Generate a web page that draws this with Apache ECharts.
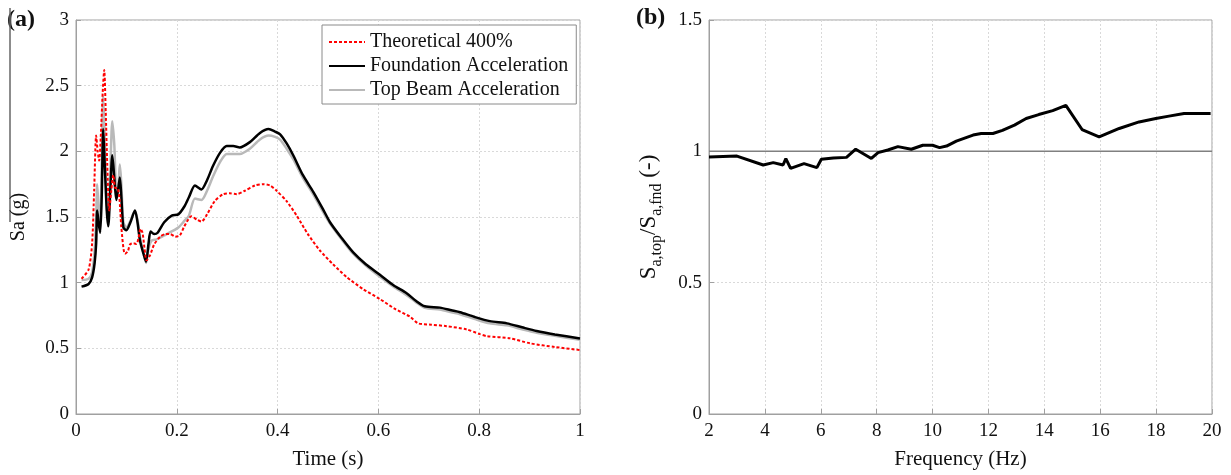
<!DOCTYPE html>
<html>
<head>
<meta charset="utf-8">
<script src="https://cdn.jsdelivr.net/npm/echarts@6/dist/echarts.min.js"></script>
<style>html,body{margin:0;padding:0;background:#fff}#c{width:1231px;height:475px}</style>
</head>
<body>
<div id="c"></div>
<script>
// ---------- DATA ----------
const seriesNames = ['Theoretical 400%', 'Foundation Acceleration', 'Top Beam Acceleration'];

const tTheo = [0.011,0.025,0.032,0.036,0.040,0.043,0.046,0.049,0.053,0.056,0.059,0.062,0.066,0.070,0.074,0.078,0.082,0.086,0.090,0.097,0.103,0.107,0.114,0.120,0.124,0.128,0.132,0.136,0.140,0.147,0.155,0.167,0.178,0.187,0.197,0.206,0.215,0.229,0.240,0.249,0.260,0.275,0.292,0.305,0.319,0.335,0.355,0.372,0.385,0.398,0.418,0.438,0.460,0.484,0.510,0.537,0.570,0.603,0.633,0.663,0.679,0.705,0.735,0.775,0.800,0.815,0.861,0.901,0.950,1.000];
const theo = [1.03,1.10,1.30,1.70,2.12,2.00,1.93,2.10,2.45,2.62,2.30,1.90,1.55,1.70,1.82,1.72,1.72,1.65,1.42,1.22,1.24,1.29,1.30,1.295,1.34,1.41,1.38,1.26,1.17,1.21,1.29,1.35,1.37,1.37,1.35,1.36,1.43,1.505,1.48,1.465,1.52,1.62,1.674,1.68,1.674,1.70,1.74,1.75,1.74,1.70,1.62,1.51,1.37,1.245,1.14,1.043,0.95,0.875,0.80,0.74,0.69,0.68,0.669,0.644,0.61,0.593,0.576,0.538,0.51,0.487];

const tFnd = [0.011,0.025,0.032,0.037,0.040,0.042,0.045,0.048,0.051,0.054,0.057,0.061,0.064,0.068,0.072,0.076,0.080,0.084,0.087,0.090,0.094,0.100,0.108,0.117,0.122,0.127,0.134,0.139,0.144,0.148,0.155,0.162,0.175,0.190,0.203,0.215,0.224,0.236,0.249,0.260,0.272,0.286,0.299,0.312,0.325,0.345,0.365,0.382,0.395,0.405,0.418,0.431,0.450,0.471,0.490,0.504,0.527,0.550,0.575,0.603,0.630,0.656,0.675,0.692,0.722,0.745,0.762,0.790,0.821,0.855,0.885,0.914,0.950,1.000];
const fnd = [0.97,0.99,1.04,1.15,1.30,1.55,1.45,1.38,1.65,2.17,1.90,1.55,1.43,1.70,1.97,1.80,1.63,1.72,1.80,1.65,1.42,1.40,1.46,1.55,1.46,1.32,1.22,1.16,1.30,1.39,1.37,1.38,1.46,1.51,1.52,1.58,1.65,1.74,1.71,1.78,1.89,1.99,2.04,2.04,2.03,2.07,2.14,2.17,2.15,2.13,2.06,1.97,1.82,1.69,1.56,1.46,1.34,1.23,1.14,1.06,0.98,0.92,0.86,0.82,0.81,0.79,0.775,0.74,0.707,0.69,0.66,0.632,0.606,0.575];

const tTop = [0.011,0.025,0.032,0.037,0.040,0.042,0.045,0.048,0.051,0.054,0.057,0.061,0.064,0.068,0.072,0.076,0.080,0.084,0.087,0.090,0.094,0.100,0.108,0.117,0.122,0.127,0.134,0.139,0.144,0.150,0.160,0.175,0.190,0.203,0.215,0.224,0.236,0.249,0.260,0.272,0.286,0.299,0.312,0.325,0.345,0.365,0.382,0.395,0.405,0.418,0.431,0.450,0.471,0.490,0.504,0.527,0.550,0.575,0.603,0.630,0.656,0.675,0.692,0.722,0.745,0.762,0.790,0.821,0.855,0.885,0.914,0.950,1.000];
const topBeam = [1.02,1.03,1.08,1.25,1.50,1.75,1.55,1.48,1.90,2.42,2.10,1.60,1.49,1.85,2.23,2.05,1.72,1.75,1.90,1.75,1.46,1.42,1.47,1.55,1.48,1.35,1.22,1.15,1.26,1.32,1.33,1.36,1.39,1.42,1.47,1.51,1.64,1.63,1.70,1.81,1.92,1.98,1.98,1.98,2.02,2.09,2.12,2.11,2.09,2.02,1.94,1.80,1.67,1.54,1.45,1.33,1.22,1.13,1.045,0.97,0.905,0.85,0.808,0.795,0.775,0.76,0.725,0.69,0.675,0.645,0.618,0.595,0.565];

const freq = [2.0,3.0,3.94,4.3,4.65,4.75,4.92,5.4,5.86,6.02,6.45,6.92,7.25,7.81,8.05,8.4,8.76,9.24,9.65,10.0,10.25,10.5,10.85,11.45,11.74,12.16,12.5,12.93,13.35,13.8,14.3,14.77,15.35,15.96,16.68,17.39,17.99,18.46,19.0,19.95];
const ratio = [0.978,0.982,0.948,0.957,0.948,0.972,0.935,0.953,0.938,0.970,0.975,0.977,1.008,0.973,0.995,1.005,1.018,1.008,1.023,1.023,1.014,1.020,1.039,1.062,1.068,1.068,1.080,1.100,1.125,1.140,1.155,1.175,1.083,1.055,1.087,1.112,1.125,1.134,1.144,1.144];
const refLevel = 1;

// ---------- CHART ----------
const pairs = (xs, ys) => xs.map((x, i) => [x, ys[i]]);
const FONT = '"Liberation Serif", "DejaVu Serif", serif';
const gridLine = { show: true, lineStyle: { color: '#d9d9d9', type: [2, 2], width: 1 } };
const axisLine = { show: true, lineStyle: { color: '#a0a0a0', width: 1 } };
const axisTick = { show: true, inside: true, length: 5, lineStyle: { color: '#a0a0a0' } };
const label = { color: '#111', fontFamily: FONT, fontSize: 19 };

const chart = echarts.init(document.getElementById('c'), null, { renderer: 'canvas' });
chart.setOption({
  backgroundColor: '#fff',
  animation: false,
  grid: [
    { left: 76, right: 651, top: 20, bottom: 59, show: true, borderColor: '#a0a0a0', borderWidth: 1, backgroundColor: 'transparent' },
    { left: 709, right: 19, top: 20, bottom: 59, show: true, borderColor: '#a0a0a0', borderWidth: 1, backgroundColor: 'transparent' }
  ],
  xAxis: [
    { type: 'value', gridIndex: 0, min: 0, max: 1, interval: 0.2,
      name: 'Time (s)', nameLocation: 'middle', nameGap: 35,
      nameTextStyle: { color: '#111', fontFamily: FONT, fontSize: 21 },
      axisLine, axisTick, splitLine: gridLine, axisLabel: Object.assign({ margin: 8 }, label) },
    { type: 'value', gridIndex: 1, min: 2, max: 20, interval: 2,
      name: 'Frequency (Hz)', nameLocation: 'middle', nameGap: 35,
      nameTextStyle: { color: '#111', fontFamily: FONT, fontSize: 21 },
      axisLine, axisTick, splitLine: gridLine, axisLabel: Object.assign({ margin: 8 }, label) }
  ],
  yAxis: [
    { type: 'value', gridIndex: 0, min: 0, max: 3, interval: 0.5,
      name: 'Sa (g)', nameLocation: 'middle', nameGap: 47, nameRotate: 90,
      nameTextStyle: { color: '#111', fontFamily: FONT, fontSize: 20 },
      axisLine, axisTick, splitLine: gridLine, axisLabel: Object.assign({ margin: 7 }, label) },
    { type: 'value', gridIndex: 1, min: 0, max: 1.5, interval: 0.5,
      name: '{m|S}{s|a,top}{m|/S}{s|a,fnd}{m| (-)}', nameLocation: 'middle', nameGap: 44, nameRotate: 90,
      nameTextStyle: { color: '#111', fontFamily: FONT, fontSize: 22,
        rich: {
          m: { fontFamily: FONT, fontSize: 23, color: '#111', lineHeight: 32 },
          s: { fontFamily: FONT, fontSize: 16, color: '#111', verticalAlign: 'bottom' }
        } },
      axisLine, axisTick, splitLine: gridLine, axisLabel: Object.assign({ margin: 7 }, label) }
  ],
  legend: {
    left: 322, top: 25, orient: 'vertical',
    padding: [7, 8, 4, 6], itemGap: 4, itemWidth: 36, itemHeight: 14, itemTextGap: 4,
    borderColor: '#8a8a8a', borderWidth: 1, backgroundColor: '#fff',
    itemStyle: { opacity: 0, borderWidth: 0 },
    textStyle: { color: '#111', fontFamily: FONT, fontSize: 20 },
    data: seriesNames
  },
  series: [
    { name: seriesNames[2], type: 'line', xAxisIndex: 0, yAxisIndex: 0, data: pairs(tTop, topBeam),
      showSymbol: false, symbol: 'none', smooth: 0.25, lineStyle: { color: '#b9b9b9', width: 2.5 }, itemStyle: { color: '#b9b9b9' }, z: 2 },
    { name: seriesNames[1], type: 'line', xAxisIndex: 0, yAxisIndex: 0, data: pairs(tFnd, fnd),
      showSymbol: false, symbol: 'none', smooth: 0.25, lineStyle: { color: '#000', width: 2.5 }, itemStyle: { color: '#000' }, z: 3 },
    { name: seriesNames[0], type: 'line', xAxisIndex: 0, yAxisIndex: 0, data: pairs(tTheo, theo),
      showSymbol: false, symbol: 'none', smooth: 0.25, lineStyle: { color: '#ff0000', width: 2, type: [3, 2] }, itemStyle: { color: '#ff0000' }, z: 4 },
    { name: 'ref', type: 'line', xAxisIndex: 1, yAxisIndex: 1, data: [[2, refLevel], [20, refLevel]],
      showSymbol: false, symbol: 'none', lineStyle: { color: '#808080', width: 1.5 }, z: 2 },
    { name: 'ratio', type: 'line', xAxisIndex: 1, yAxisIndex: 1, data: pairs(freq, ratio),
      showSymbol: false, symbol: 'none', lineStyle: { color: '#000', width: 3 }, z: 3 }
  ],
  graphic: [
    { type: 'text', left: 7, top: 8, style: { text: '(a)', fontFamily: FONT, fontWeight: 'bold', fontSize: 24, fill: '#111' } },
    { type: 'text', left: 636, top: 6, style: { text: '(b)', fontFamily: FONT, fontWeight: 'bold', fontSize: 24, fill: '#111' } },
    { type: 'line', shape: { x1: 10, y1: 8, x2: 10, y2: 222 }, style: { stroke: '#666', lineWidth: 1.5 } }
  ]
});
</script>
</body>
</html>
